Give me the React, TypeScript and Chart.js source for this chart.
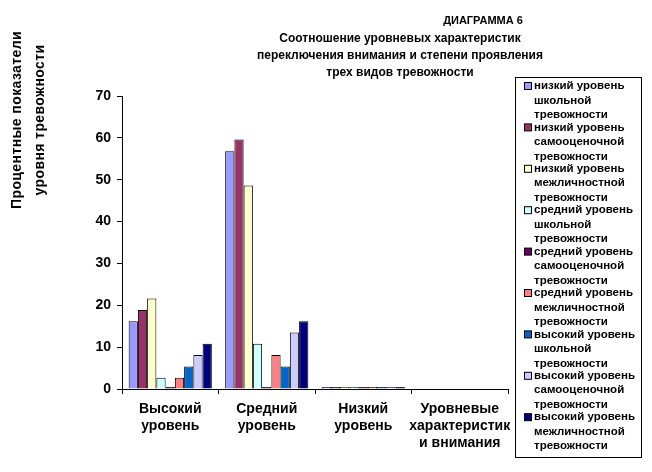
import React, { useEffect, useRef } from "react";
import { Chart, registerables } from "chart.js";

Chart.register(...registerables);

const categories: string[][] = [
  ["Высокий", "уровень"],
  ["Средний", "уровень"],
  ["Низкий", "уровень"],
  ["Уровневые", "характеристик", "и внимания"],
];

const seriesNames = [
  "низкий уровень школьной тревожности",
  "низкий уровень самооценочной тревожности",
  "низкий уровень межличностной тревожности",
  "средний уровень школьной тревожности",
  "средний уровень самооценочной тревожности",
  "средний уровень межличностной тревожности",
  "высокий уровень школьной тревожности",
  "высокий уровень самооценочной тревожности",
  "высокий уровень межличностной тревожности",
];

const legendLines: string[][] = [
  ["низкий уровень", "школьной", "тревожности"],
  ["низкий уровень", "самооценочной", "тревожности"],
  ["низкий уровень", "межличностной", "тревожности"],
  ["средний уровень", "школьной", "тревожности"],
  ["средний уровень", "самооценочной", "тревожности"],
  ["средний уровень", "межличностной", "тревожности"],
  ["высокий уровень", "школьной", "тревожности"],
  ["высокий уровень", "самооценочной", "тревожности"],
  ["высокий уровень", "межличностной", "тревожности"],
];

const seriesColors = [
  "#9999FF",
  "#993366",
  "#FFFFCC",
  "#CCFFFF",
  "#660066",
  "#FF8080",
  "#0066CC",
  "#CCCCFF",
  "#000080",
];

// values per series: [Высокий, Средний, Низкий, Уровневые]
const lowSchool = [16.2, 56.8, 0.2, null];
const lowSelf = [18.9, 59.6, 0.2, null];
const lowInterp = [21.6, 48.6, 0.2, null];
const midSchool = [2.7, 10.8, 0.2, null];
const midSelf = [0.3, 0.3, 0.2, null];
const midInterp = [2.7, 8.1, 0.2, null];
const highSchool = [5.4, 5.4, 0.2, null];
const highSelf = [8.1, 13.5, 0.2, null];
const highInterp = [10.8, 16.2, 0.2, null];

const seriesValues = [
  lowSchool,
  lowSelf,
  lowInterp,
  midSchool,
  midSelf,
  midInterp,
  highSchool,
  highSelf,
  highInterp,
];

const yTicks = [0, 10, 20, 30, 40, 50, 60, 70];

const titleTop = "ДИАГРАММА 6";
const titleLines = [
  "Соотношение уровневых характеристик",
  "переключения внимания и степени проявления",
  "трех видов тревожности",
];
const yTitleLines = ["Процентные показатели", "уровня тревожности"];

const FONT = "'Liberation Sans', Arial, sans-serif";

const decorPlugin = {
  id: "decor",
  afterDraw(chart: any) {
    const ctx = chart.ctx as CanvasRenderingContext2D;
    ctx.save();
    ctx.fillStyle = "#000";
    // title
    ctx.font = `bold 11px ${FONT}`;
    ctx.textBaseline = "middle";
    ctx.textAlign = "center";
    ctx.fillText(titleTop, 483, 21);
    ctx.font = `bold 12px ${FONT}`;
    titleLines.forEach((l, i) => ctx.fillText(l, 400, 39 + i * 17));
    // y title
    ctx.font = `bold 14px ${FONT}`;
    (ctx as any).letterSpacing = "0.4px";
    yTitleLines.forEach((l, i) => {
      ctx.save();
      ctx.translate(17 + i * 23, 120);
      ctx.rotate(-Math.PI / 2);
      ctx.fillText(l, 0, 0);
      ctx.restore();
    });
    (ctx as any).letterSpacing = "0px";
    // legend
    const lx = 515, ly = 77, lw = 126, lh = 380;
    ctx.fillStyle = "#fff";
    ctx.fillRect(lx, ly, lw, lh);
    ctx.strokeStyle = "#000";
    ctx.lineWidth = 1;
    ctx.strokeRect(lx + 0.5, ly + 0.5, lw, lh);
    ctx.font = `bold 11.5px ${FONT}`;
    ctx.textAlign = "left";
    ctx.textBaseline = "middle";
    legendLines.forEach((lines, i) => {
      const y0 = 86 + i * 41.4;
      ctx.fillStyle = seriesColors[i];
      ctx.fillRect(524, y0 - 3.5, 7, 7);
      ctx.strokeStyle = "#000";
      ctx.strokeRect(524.5, y0 - 3.5, 7, 7);
      ctx.fillStyle = "#000";
      lines.forEach((t, j) => ctx.fillText(t, 534, y0 + j * 14.5));
    });
    ctx.restore();
  },
};

export default function App() {
  const ref = useRef<HTMLCanvasElement>(null);
  useEffect(() => {
    document.body.style.margin = "0";
    const chart = new Chart(ref.current!, {
      type: "bar",
      data: {
        labels: categories,
        datasets: seriesValues.map((vals, i) => ({
          label: seriesNames[i],
          data: vals as any,
          backgroundColor: seriesColors[i],
          borderColor: "#000",
          borderWidth: 1,
          borderSkipped: "bottom" as any,
          minBarLength: 2,
          categoryPercentage: 0.862,
          barPercentage: 1,
        })),
      },
      options: {
        animation: false,
        responsive: false,
        maintainAspectRatio: false,
        layout: { padding: { left: 0, top: 96, right: 652 - 508, bottom: 0 } },
        plugins: {
          legend: { display: false },
          title: { display: false },
          tooltip: { enabled: false },
        },
        scales: {
          x: {
            grid: {
              display: true,
              drawOnChartArea: false,
              offset: true,
              tickLength: 5,
              color: "#000",
            },
            border: { color: "#000", width: 1 },
            ticks: {
              color: "#000",
              font: { family: FONT, size: 14, weight: "bold" },
              padding: 7,
              maxRotation: 0,
              autoSkip: false,
            },
            afterFit: (s: any) => {
              s.height = 472 - 389;
            },
          },
          y: {
            min: 0,
            max: 70,
            afterBuildTicks: (s: any) => {
              s.ticks = yTicks.map((v) => ({ value: v }));
            },
            grid: {
              display: true,
              drawOnChartArea: false,
              tickLength: 5,
              color: "#000",
            },
            border: { color: "#000", width: 1 },
            ticks: {
              color: "#000",
              font: { family: FONT, size: 14, weight: "bold" },
              padding: 6,
            },
            afterFit: (s: any) => {
              s.width = 122;
            },
          },
        },
      },
      plugins: [decorPlugin],
    });
    return () => chart.destroy();
  }, []);
  return <canvas ref={ref} width={652} height={472} style={{ display: "block" }} />;
}
